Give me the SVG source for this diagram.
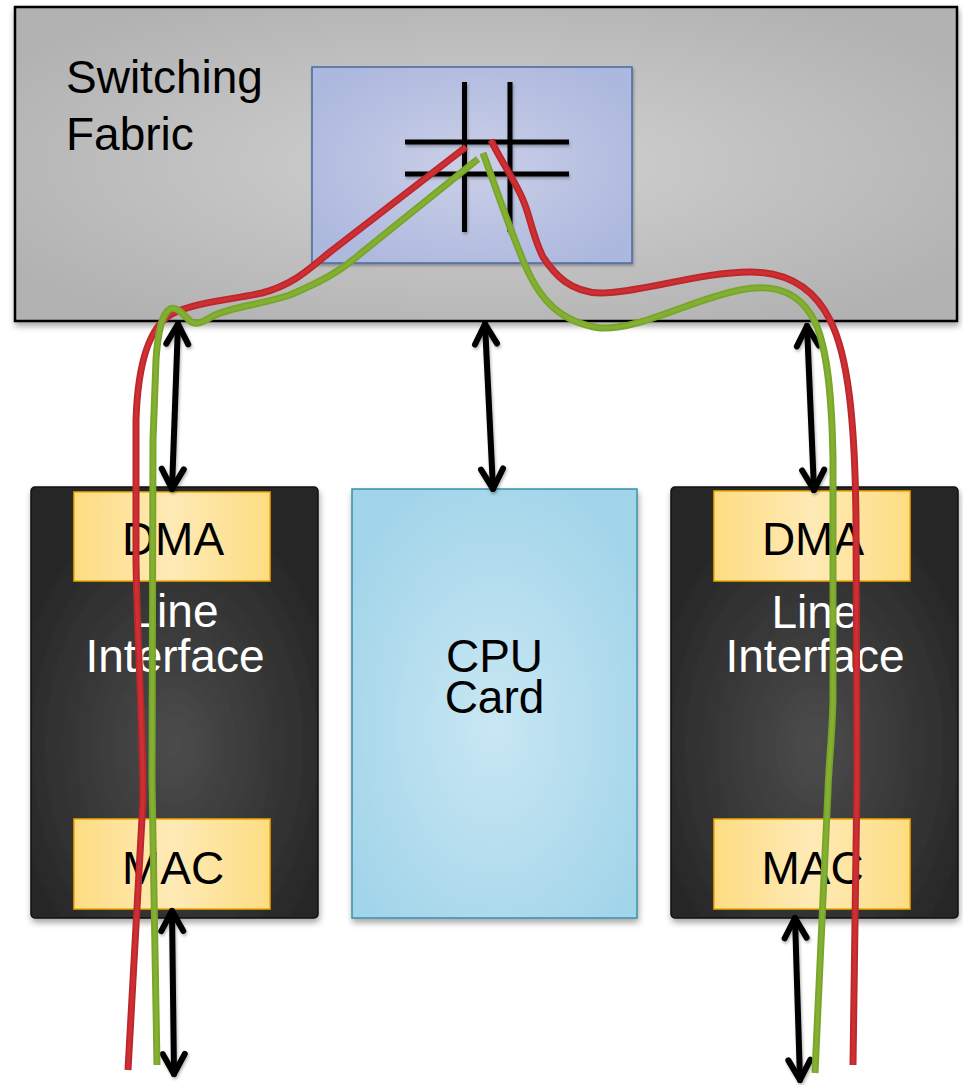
<svg xmlns="http://www.w3.org/2000/svg" width="963" height="1085" viewBox="0 0 963 1085">
<style>
text{font-family:"Liberation Sans",Arial,sans-serif;font-size:46px}
.dk{fill:#000}
.wt{fill:#fff}
.ctr{text-anchor:middle}
.arrow{fill:none;stroke:#000;stroke-width:6;stroke-linecap:round;marker-start:url(#ah);marker-end:url(#ah)}
.hash{stroke:#000;stroke-width:5;stroke-linecap:butt}
.red{fill:none;stroke:#bd262c;stroke-width:7;stroke-linecap:butt;stroke-linejoin:round}
.green{fill:none;stroke:#78a42b;stroke-width:7;stroke-linecap:butt;stroke-linejoin:round}
.redi{fill:none;stroke:#cc3033;stroke-width:3.5;stroke-linejoin:round}
.greeni{fill:none;stroke:#84b032;stroke-width:3.5;stroke-linejoin:round}
.yel{fill:url(#gYel);stroke:#f0a800;stroke-width:1.5}
.li{fill:url(#gDark);stroke:#111;stroke-width:1.5}
</style>
<defs>
<radialGradient id="gGray" cx="0.5" cy="0.5" r="0.6">
<stop offset="0" stop-color="#d2d2d2"/>
<stop offset="1" stop-color="#b2b2b2"/>
</radialGradient>
<radialGradient id="gBlue" cx="0.5" cy="0.5" r="0.6">
<stop offset="0" stop-color="#cbd0e8"/>
<stop offset="1" stop-color="#adb8de"/>
</radialGradient>
<radialGradient id="gDark" cx="0.5" cy="0.6" r="0.6">
<stop offset="0" stop-color="#4c4c4c"/>
<stop offset="1" stop-color="#262626"/>
</radialGradient>
<radialGradient id="gCpu" cx="0.5" cy="0.55" r="0.6">
<stop offset="0" stop-color="#c9e7f3"/>
<stop offset="1" stop-color="#a3d5ea"/>
</radialGradient>
<linearGradient id="gYel" x1="0" y1="0" x2="1" y2="0">
<stop offset="0" stop-color="#fddc82"/>
<stop offset="0.5" stop-color="#feeab6"/>
<stop offset="1" stop-color="#fddc82"/>
</linearGradient>
<filter id="sh" x="-10%" y="-10%" width="120%" height="120%">
<feDropShadow dx="1" dy="4" stdDeviation="3" flood-color="#000" flood-opacity="0.35"/>
</filter>
<filter id="sh2" x="-20%" y="-20%" width="140%" height="140%">
<feDropShadow dx="1" dy="2" stdDeviation="1.5" flood-color="#000" flood-opacity="0.3"/>
</filter>
<marker id="ah" viewBox="-26 -16 32 32" refX="0" refY="0" markerWidth="32" markerHeight="32" markerUnits="userSpaceOnUse" orient="auto-start-reverse">
<path d="M-20,-11 L0,0 L-20,11" fill="none" stroke="#000" stroke-width="6" stroke-linecap="round" stroke-linejoin="round"/>
</marker>
<path id="rL" d="M466,147 L330,252 C310,268 295,284 262,293 C230,300 195,302 172,314 C150,326 138,360 136,420 L136,560 C137,640 143,720 143,800 L128,1070"/>
<path id="gL" d="M478,159 L360,254 C340,272 320,282 290,295 C260,305 230,307 213,316 C203,322 196,326 190,321 C182,313 176,306 170,309 C162,314 158,330 156,360 L153,440 L152,780 L157,1065"/>
<path id="rR" d="M491,140 C500,160 515,180 523,200 C530,215 532,235 543,257 C555,275 570,292 600,293 C640,293 700,272 750,272 C790,272 815,290 830,320 C848,355 855,420 856,520 L857,780 L853,1065"/>
<path id="gR" d="M483,153 C495,185 508,225 525,265 C540,300 560,322 600,328 C640,330 690,300 740,290 C775,283 800,292 815,322 C828,350 832,400 833,460 L833,700 C832,740 829,760 828,790 L815,1073"/>
</defs>

<g id="switching-fabric">
<rect x="15" y="7" width="942" height="314" fill="url(#gGray)" stroke="#000" stroke-width="2.5" filter="url(#sh)"/>
<text class="dk" x="66" y="93">Switching</text>
<text class="dk" x="66" y="150">Fabric</text>
</g>

<g id="crossbar">
<rect x="312" y="67" width="320" height="196" fill="url(#gBlue)" stroke="#4d68a3" stroke-width="1.5" filter="url(#sh2)"/>
<g filter="url(#sh2)">
<line class="hash" x1="464.5" y1="82" x2="464.5" y2="232"/>
<line class="hash" x1="510" y1="82" x2="510" y2="232"/>
<line class="hash" x1="405" y1="142" x2="569" y2="142"/>
<line class="hash" x1="405" y1="174" x2="569" y2="174"/>
</g>
</g>

<g id="line-interface-left">
<rect class="li" x="31" y="487" width="287" height="431" rx="4" filter="url(#sh)"/>
<text class="wt ctr" x="175" y="627">Line</text>
<text class="wt ctr" x="175" y="672">Interface</text>
</g>
<g id="dma-left">
<rect class="yel" x="74" y="492" width="196" height="89"/>
<text class="dk ctr" x="173" y="555">DMA</text>
</g>
<g id="mac-left">
<rect class="yel" x="74" y="819" width="196" height="90"/>
<text class="dk ctr" x="173" y="884">MAC</text>
</g>

<g id="cpu-card">
<rect x="352" y="489" width="285" height="429" fill="url(#gCpu)" stroke="#3a8fab" stroke-width="1.5" filter="url(#sh)"/>
<text class="dk ctr" x="494.5" y="672">CPU</text>
<text class="dk ctr" x="494.5" y="713">Card</text>
</g>

<g id="line-interface-right">
<rect class="li" x="671" y="487" width="287" height="431" rx="4" filter="url(#sh)"/>
<text class="wt ctr" x="815" y="628">Line</text>
<text class="wt ctr" x="815" y="672">Interface</text>
</g>
<g id="dma-right">
<rect class="yel" x="714" y="491" width="196" height="90"/>
<text class="dk ctr" x="813" y="555">DMA</text>
</g>
<g id="mac-right">
<rect class="yel" x="714" y="819" width="196" height="90"/>
<text class="dk ctr" x="812.5" y="884">MAC</text>
</g>

<g id="connectors">
<g filter="url(#sh2)">
<path class="arrow" d="M178,324 L172,489"/>
<path class="arrow" d="M485,324 L493,489"/>
<path class="arrow" d="M807,326 L814,490"/>
<path class="arrow" d="M172,911 L174,1074"/>
<path class="arrow" d="M795,918 L800,1080"/>
</g>
<use href="#rL" class="red"/>
<use href="#rL" class="redi"/>
<use href="#gL" class="green"/>
<use href="#gL" class="greeni"/>
<use href="#rR" class="red"/>
<use href="#rR" class="redi"/>
<use href="#gR" class="green"/>
<use href="#gR" class="greeni"/>
</g>
</svg>
